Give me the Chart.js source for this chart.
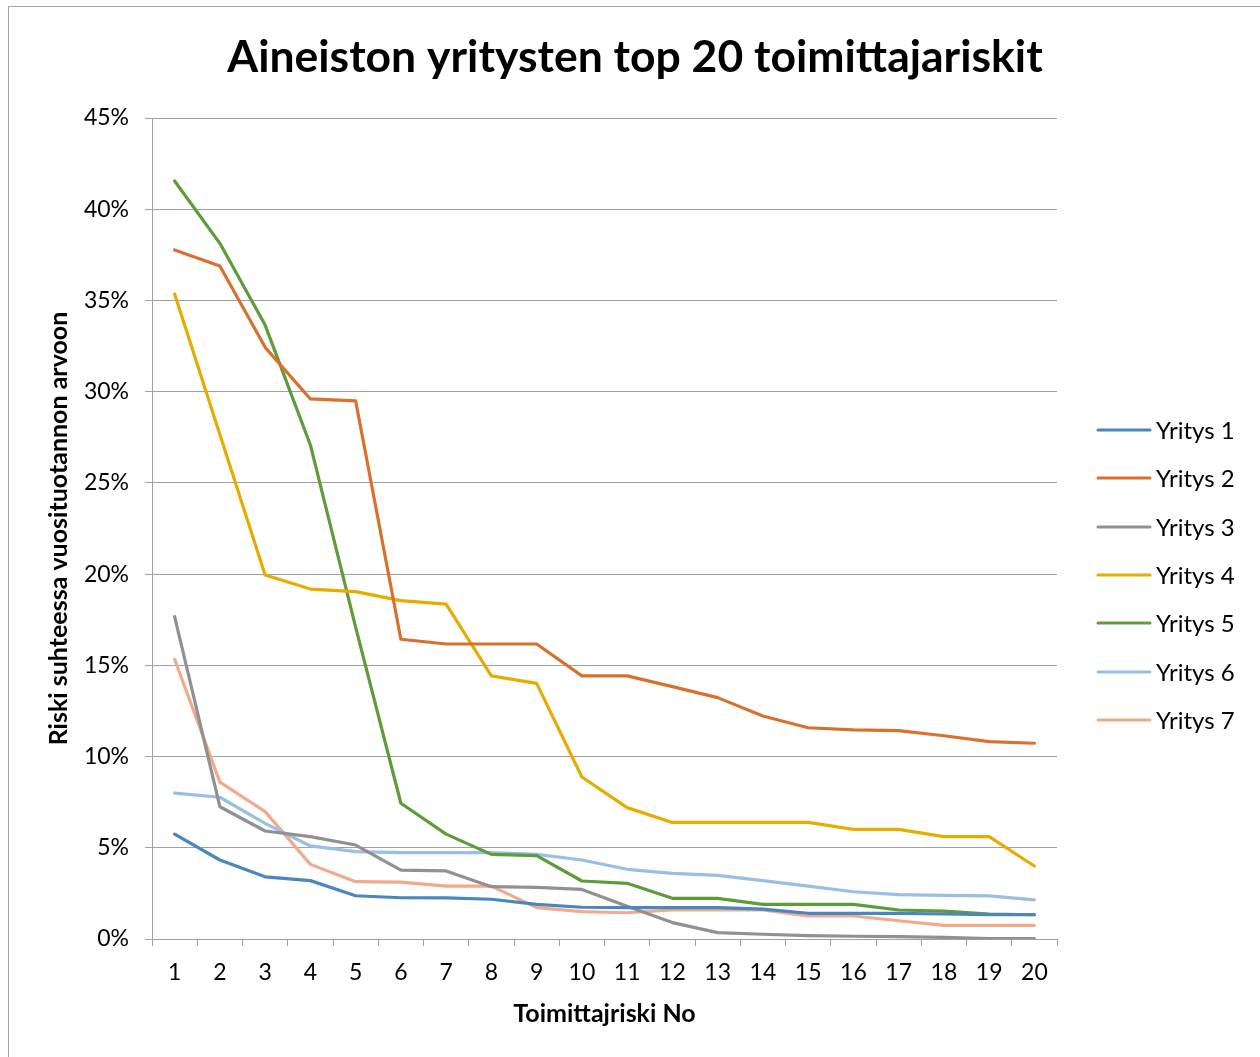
<!DOCTYPE html>
<html>
<head>
<meta charset="utf-8">
<script src="https://cdn.jsdelivr.net/npm/chart.js@4/dist/chart.umd.min.js"></script>
<style>
  html, body { margin: 0; padding: 0; background: #ffffff; }
  #wrap { position: relative; width: 1260px; height: 1057px; }
  canvas { display: block; }
</style>
</head>
<body>
<div id="wrap"><canvas id="c" width="1260" height="1057"></canvas></div>
<script>
// Supplier risk rank on the x axis
const categories = ['1','2','3','4','5','6','7','8','9','10','11','12','13','14','15','16','17','18','19','20'];

// Risk relative to annual production value, in percent
const yritys1 = [5.75, 4.33, 3.41, 3.2, 2.37, 2.26, 2.25, 2.18, 1.9, 1.74, 1.72, 1.72, 1.72, 1.64, 1.41, 1.41, 1.41, 1.37, 1.33, 1.33];
const yritys2 = [37.77, 36.89, 32.43, 29.6, 29.5, 16.43, 16.17, 16.17, 16.17, 14.42, 14.42, 13.83, 13.23, 12.22, 11.58, 11.46, 11.42, 11.14, 10.82, 10.73];
const yritys3 = [17.67, 7.25, 5.92, 5.61, 5.15, 3.78, 3.73, 2.87, 2.83, 2.72, 1.8, 0.9, 0.35, 0.26, 0.18, 0.15, 0.13, 0.09, 0.02, 0.02];
const yritys4 = [35.35, 27.65, 19.95, 19.18, 19.04, 18.55, 18.35, 14.42, 14.01, 8.88, 7.2, 6.39, 6.39, 6.39, 6.39, 6.01, 6.01, 5.61, 5.61, 4.0];
const yritys5 = [41.55, 38.13, 33.65, 27.08, 17.1, 7.44, 5.75, 4.64, 4.57, 3.18, 3.05, 2.23, 2.23, 1.9, 1.9, 1.9, 1.59, 1.53, 1.37, 1.33];
const yritys6 = [8.0, 7.77, 6.34, 5.1, 4.79, 4.73, 4.73, 4.73, 4.64, 4.33, 3.82, 3.6, 3.49, 3.2, 2.9, 2.59, 2.43, 2.39, 2.36, 2.14];
const yritys7 = [15.33, 8.6, 6.98, 4.09, 3.14, 3.12, 2.9, 2.9, 1.72, 1.5, 1.44, 1.59, 1.59, 1.59, 1.26, 1.26, 1.0, 0.75, 0.75, 0.75];

const seriesNames = ['Yritys 1', 'Yritys 2', 'Yritys 3', 'Yritys 4', 'Yritys 5', 'Yritys 6', 'Yritys 7'];
const seriesValues = [yritys1, yritys2, yritys3, yritys4, yritys5, yritys6, yritys7];
const seriesColors = ['#4A86BF', '#D9702E', '#919191', '#E6AC00', '#5E9B3A', '#99BFE5', '#F2A98C'];

// Y-axis tick range (percent)
const yMin = 0, yMax = 45, yStep = 5;

const chartTitle = 'Aineiston yritysten top 20 toimittajariskit';
const xTitle = 'Toimittajriski No';
const yTitle = 'Riski suhteessa vuosituotannon arvoon';

const FONT = 'Lato, "Open Sans", "DejaVu Sans", sans-serif';

// White background, outer frame and the chart heading
const framePlugin = {
  id: 'frame',
  beforeDraw(chart) {
    const ctx = chart.ctx;
    ctx.save();
    ctx.fillStyle = '#ffffff';
    ctx.fillRect(0, 0, chart.width, chart.height);
    ctx.strokeStyle = '#A6A6A6';
    ctx.lineWidth = 1;
    ctx.strokeRect(8.5, 6.5, chart.width + 10, chart.height + 10);
    ctx.fillStyle = '#000000';
    ctx.font = 'bold 44.5px ' + FONT;
    ctx.textAlign = 'center';
    ctx.textBaseline = 'middle';
    ctx.fillText(chartTitle, 635, 58);
    ctx.restore();
  }
};

// Legend on the right: line sample followed by the series name
const sideLegend = {
  id: 'sideLegend',
  afterDraw(chart) {
    const ctx = chart.ctx;
    const x0 = 1098, x1 = 1150, textX = 1156;
    const top = 430, gap = 48.3;
    ctx.save();
    ctx.font = '24px ' + FONT;
    ctx.textBaseline = 'middle';
    ctx.textAlign = 'left';
    chart.data.datasets.forEach((ds, i) => {
      const y = Math.round(top + i * gap);
      ctx.strokeStyle = ds.borderColor;
      ctx.lineWidth = 3;
      ctx.lineCap = 'round';
      ctx.beginPath();
      ctx.moveTo(x0, y);
      ctx.lineTo(x1, y);
      ctx.stroke();
      ctx.fillStyle = '#000000';
      ctx.fillText(ds.label, textX, y + 1);
    });
    ctx.restore();
  }
};

const datasets = seriesNames.map((name, i) => ({
  label: name,
  data: seriesValues[i],
  borderColor: seriesColors[i],
  backgroundColor: seriesColors[i],
  borderWidth: 3.2,
  pointRadius: 0,
  pointHoverRadius: 0,
  tension: 0,
  fill: false,
  borderCapStyle: 'round',
  borderJoinStyle: 'round'
}));

new Chart(document.getElementById('c'), {
  type: 'line',
  data: { labels: categories, datasets: datasets },
  plugins: [framePlugin, sideLegend],
  options: {
    responsive: false,
    animation: false,
    events: [],
    layout: { padding: { left: 40, right: 203, top: 118, bottom: 20 } },
    plugins: {
      legend: { display: false },
      tooltip: { enabled: false },
      title: { display: false }
    },
    scales: {
      x: {
        type: 'category',
        offset: true,
        afterFit(axis) { axis.height = 1057 - 939 - 20; },
        grid: {
          display: true,
          offset: true,
          drawOnChartArea: false,
          drawTicks: true,
          tickLength: 7,
          color: '#A0A0A0',
          lineWidth: 1
        },
        border: { display: true, color: '#A0A0A0', width: 1 },
        ticks: {
          color: '#000000',
          font: { family: FONT, size: 23 },
          padding: 13,
          maxRotation: 0,
          autoSkip: false
        },
        title: {
          display: true,
          text: xTitle,
          color: '#000000',
          font: { family: FONT, size: 25, weight: 'bold' },
          padding: { top: 0, bottom: 8 }
        }
      },
      y: {
        min: yMin,
        max: yMax,
        afterFit(axis) { axis.width = 112; },
        grid: {
          display: true,
          drawOnChartArea: true,
          drawTicks: true,
          tickLength: 7,
          color: '#A0A0A0',
          lineWidth: 1
        },
        border: { display: true, color: '#A0A0A0', width: 1 },
        ticks: {
          stepSize: yStep,
          color: '#000000',
          font: { family: FONT, size: 23 },
          padding: 16,
          callback: (v) => v + '%'
        },
        title: {
          display: true,
          text: yTitle,
          color: '#000000',
          font: { family: FONT, size: 25, weight: 'bold' },
          padding: { top: 4, bottom: 0 }
        }
      }
    }
  }
});
</script>
</body>
</html>
